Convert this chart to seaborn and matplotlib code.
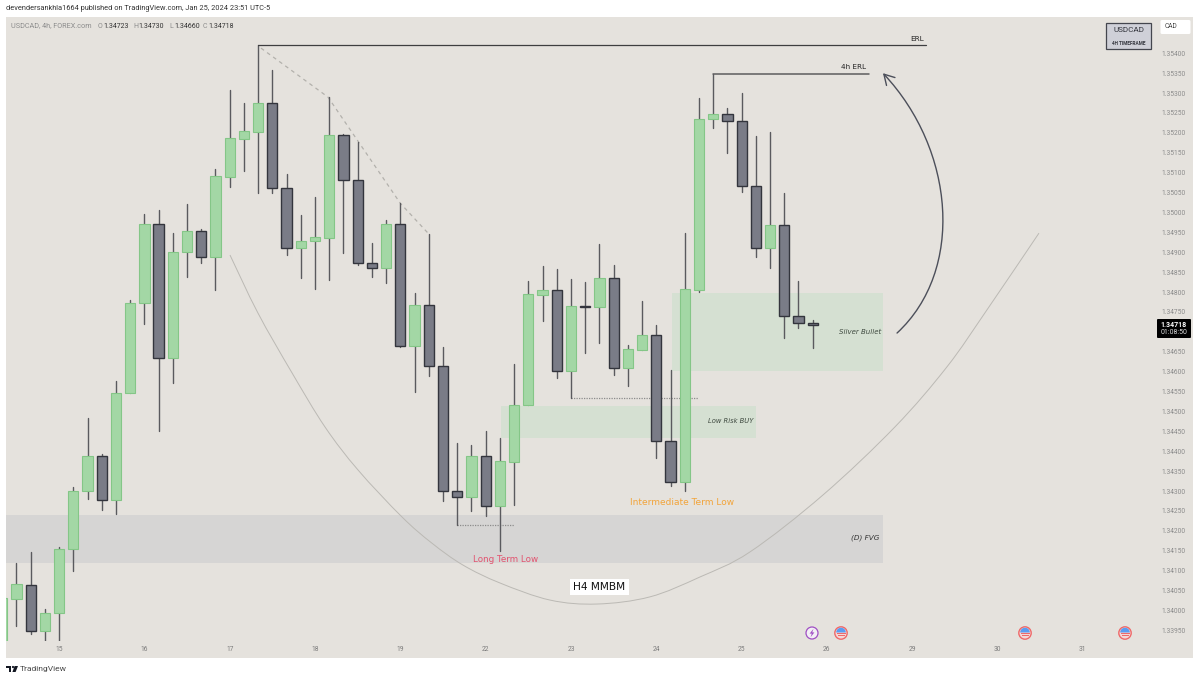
import matplotlib
matplotlib.use("Agg")
import matplotlib.pyplot as plt
from matplotlib.patches import Rectangle, Circle, Polygon, FancyArrowPatch, FancyBboxPatch, Wedge, PathPatch
from matplotlib.path import Path
from matplotlib.transforms import Affine2D
from matplotlib.ticker import FormatStrFormatter
import numpy as np
import pandas as pd
import seaborn as sns

# ---------- data ----------
opens = [1.33924,1.34028,1.34065,1.33949,1.33993,1.34154,1.34300,1.34388,1.34278,1.34546,
         1.34772,1.34971,1.34635,1.34900,1.34953,1.34889,1.35090,1.35185,1.35203,1.35274,
         1.35062,1.34911,1.34928,1.34937,1.35194,1.35081,1.34873,1.34861,1.34971,1.34664,
         1.34767,1.34614,1.34300,1.34286,1.34388,1.34262,1.34373,1.34516,1.34793,1.34805,
         1.34602,1.34765,1.34762,1.34835,1.34610,1.34655,1.34691,1.34426,1.34323,1.34805,
         1.35234,1.35247,1.35231,1.35067,1.34911,1.34968,1.34741,1.34723]
closes = [1.34030,1.34066,1.33949,1.33993,1.34154,1.34301,1.34388,1.34278,1.34546,1.34772,
          1.34971,1.34635,1.34900,1.34953,1.34889,1.35092,1.35186,1.35205,1.35274,1.35062,
          1.34911,1.34929,1.34938,1.35194,1.35081,1.34872,1.34861,1.34971,1.34664,1.34767,
          1.34613,1.34300,1.34286,1.34388,1.34262,1.34375,1.34517,1.34794,1.34805,1.34602,
          1.34766,1.34762,1.34835,1.34610,1.34657,1.34691,1.34426,1.34323,1.34807,1.35234,
          1.35247,1.35230,1.35067,1.34911,1.34968,1.34741,1.34723,1.34718]
highs = [1.34051,1.34120,1.34147,1.34003,1.34159,1.34310,1.34484,1.34393,1.34576,1.34780,
         1.34996,1.35005,1.34948,1.35021,1.34958,1.35109,1.35307,1.35276,1.35420,1.35358,
         1.35097,1.34994,1.35040,1.35289,1.35197,1.35178,1.34923,1.34981,1.35023,1.34797,
         1.34945,1.34663,1.34420,1.34416,1.34451,1.34433,1.34619,1.34828,1.34865,1.34857,
         1.34832,1.34825,1.34922,1.34867,1.34666,1.34778,1.34718,1.34604,1.34948,1.35288,
         1.35348,1.35263,1.35301,1.35192,1.35201,1.35048,1.34829,1.34730]
lows = [1.33913,1.33961,1.33941,1.33924,1.33924,1.34100,1.34281,1.34252,1.34242,1.34546,
        1.34720,1.34451,1.34571,1.34839,1.34872,1.34805,1.35063,1.35105,1.35048,1.35050,
        1.34894,1.34836,1.34808,1.34830,1.34897,1.34868,1.34839,1.34822,1.34663,1.34550,
        1.34590,1.34276,1.34215,1.34251,1.34238,1.34150,1.34264,1.34516,1.34727,1.34585,
        1.34533,1.34648,1.34671,1.34592,1.34564,1.34655,1.34382,1.34313,1.34301,1.34801,
        1.35212,1.35150,1.35051,1.34887,1.34860,1.34685,1.34710,1.34660]

day_ticks = [4, 10, 16, 22, 28, 34, 40, 46, 52, 58, 64, 70, 76]
day_labels = ["15", "16", "17", "18", "19", "22", "23", "24", "25", "26", "29", "30", "31"]
price_ticks = [1.33950,1.34000,1.34050,1.34100,1.34150,1.34200,1.34250,1.34300,1.34350,1.34400,
               1.34450,1.34500,1.34550,1.34600,1.34650,1.34750,1.34800,1.34850,1.34900,1.34950,
               1.35000,1.35050,1.35100,1.35150,1.35200,1.35250,1.35300,1.35350,1.35400]

curve_x = [16.02,17.99,20.38,22.7,25.02,28.11,30.22,32.4,35.0,38.52,41.83,45.55,49.07,52.59,
           57.72,62.78,66.44,69.25,72.91]
curve_y = [1.34893,1.34747,1.34597,1.34461,1.34353,1.34235,1.34169,1.34114,1.34069,1.34026,1.34016,1.34034,
           1.34084,1.34147,1.34290,1.34461,1.34612,1.34755,1.34948]
trend_x = [18.2, 22.91, 28.0, 30.0]
trend_y = [1.35413, 1.35290, 1.35023, 1.34946]

BG = "#e5e2dd"
UP_FACE, UP_EDGE = "#a3d7a5", "#84c687"
DN_FACE, DN_EDGE = "#7a7c87", "#33353d"
WICK = "#5a5a5e"
GREEN_ZONE = "#d5e0d2"
GREY_ZONE = "#d6d5d4"

# ---------- figure ----------
sns.set_theme(style="white")
plt.rcParams["font.family"] = ["Roboto", "DejaVu Sans"]
fig = plt.figure(figsize=(12, 6.8), dpi=100, facecolor="white")
px = Affine2D().scale(1, -1).translate(0, 680)   # chrome is placed in image pixels

fig.add_artist(Rectangle((6, 17), 1187, 641, transform=px, fc=BG, ec="none", zorder=-5))

ax = fig.add_axes([6 / 1200, 1 - 641 / 680, 1145 / 1200, 624 / 680])
ax.set_facecolor("none")
ax.set_xlim(0.267, 80.79)
ax.set_ylim(1.339231, 1.354912)
sns.despine(ax=ax, left=True, right=True, top=True, bottom=True)

# zones
for x0, x1, y0, y1, col in [(47.08, 61.96, 1.34602, 1.34798, GREEN_ZONE),
                            (35.07, 53.0, 1.34434, 1.34514, GREEN_ZONE),
                            (0.0, 61.96, 1.34118, 1.34240, GREY_ZONE)]:
    ax.add_patch(Rectangle((x0, y0), x1 - x0, y1 - y0, fc=col, ec="none", zorder=1))

# hand-drawn arc: a smooth path through the points
P = np.column_stack([curve_x, curve_y])
Q = np.vstack([P[0], P, P[-1]])
verts, codes = [tuple(P[0])], [Path.MOVETO]
for k in range(1, len(Q) - 2):
    verts += [tuple(Q[k] + (Q[k + 1] - Q[k - 1]) / 6), tuple(Q[k + 1] - (Q[k + 2] - Q[k]) / 6), tuple(Q[k + 1])]
    codes += [Path.CURVE4] * 3
ax.add_patch(PathPatch(Path(verts, codes), fc="none", ec="#bbb9b4", lw=0.7, zorder=2))

sns.lineplot(x=trend_x, y=trend_y, sort=False, estimator=None, color="#b3b1ac", lw=0.9, ax=ax, zorder=2,
             linestyle=(0, (3, 3)))

# wicks
idx = np.arange(len(opens))
wicks = pd.DataFrame({"i": np.r_[idx, idx], "price": highs + lows})
sns.lineplot(data=wicks, x="i", y="price", units="i", estimator=None, color=WICK, lw=1.0, ax=ax, zorder=3)

# bodies
o, c = np.array(opens), np.array(closes)
up = c >= o
ax.bar(idx[up], (c - o)[up], bottom=o[up], width=0.72, color=UP_FACE, edgecolor=UP_EDGE, linewidth=0.8, zorder=4)
ax.bar(idx[~up], (c - o)[~up], bottom=o[~up], width=0.72, color=DN_FACE, edgecolor=DN_EDGE, linewidth=1.0, zorder=4)

# level lines
ax.plot([18, 65.0], [1.35420, 1.35420], color="#3e3e40", lw=0.9, zorder=5)
ax.plot([50, 60.95], [1.35348, 1.35348], color="#5c5c5e", lw=1.1, zorder=5)
ax.plot([32, 36], [1.34215, 1.34215], color="#8c8c8c", lw=0.9, ls=(0, (1, 1)), zorder=2)
ax.plot([40, 48.9], [1.34533, 1.34533], color="#8c8c8c", lw=0.9, ls=(0, (1, 1)), zorder=2)

# curved arrow
arrow_path = Path([(62.93, 1.34697), (67.7, 1.34855), (67.0, 1.35157), (61.94, 1.35350)],
                  [Path.MOVETO, Path.CURVE4, Path.CURVE4, Path.CURVE4])
ax.add_patch(FancyArrowPatch(path=arrow_path, transform=ax.transData, arrowstyle="->,head_length=4.5,head_width=2.6",
                             color="#4c4f5a", lw=1.0, zorder=5, mutation_scale=1.6))

# annotations
ann = dict(family=["DejaVu Sans"], zorder=6, va="center")
ax.text(64.8, 1.35436, "ERL", ha="right", fontsize=5.2, color="#222222", **ann)
ax.text(60.75, 1.35366, "4h ERL", ha="right", fontsize=5.2, color="#222222", **ann)
ax.text(61.8, 1.34700, "Silver Bullet", ha="right", fontsize=5.0, style="italic", color="#3f4a40", **ann)
ax.text(52.8, 1.34476, "Low Risk BUY", ha="right", fontsize=4.9, style="italic", color="#3f4a40", **ann)
ax.text(61.7, 1.34182, "(D) FVG", ha="right", fontsize=5.2, style="italic", color="#333333", **ann)
ax.text(47.8, 1.34270, "Intermediate Term Low", ha="center", fontsize=6.5, color="#f2a43a", **ann)
ax.text(35.4, 1.34129, "Long Term Low", ha="center", fontsize=6.3, color="#e2526e", **ann)
ax.text(42.0, 1.34058, "H4 MMBM", ha="center", fontsize=7.6, color="#111111",
        bbox=dict(fc="white", ec="none", pad=2.2), **ann)

# axes ticks
ax.set_xticks(day_ticks, day_labels)
ax.set_yticks(price_ticks)
ax.yaxis.tick_right()
ax.yaxis.set_major_formatter(FormatStrFormatter("%.5f"))
ax.tick_params(axis="y", length=0, pad=7.2, labelsize=4.8, labelcolor="#8b8b8b")
ax.tick_params(axis="x", length=0, pad=3.5, labelsize=4.8, labelcolor="#7b7b7b")
ax.set_xlabel("")
ax.set_ylabel("")


def T(x, y, s, **kw):
    kw.setdefault("va", "center")
    fig.text(x, y, s, transform=px, **kw)


# header
T(6, 9, "devendersankhla1664 published on TradingView.com, Jan 25, 2024 23:51 UTC-5", fontsize=5.3, color="#333333")
T(11, 26, "USDCAD, 4h, FOREX.com", fontsize=5.25, color="#8c8c8c")
for xl, lab, xv, val in [(98, "O", 103, "1.34723"), (133, "H", 138, "1.34730"),
                         (169, "L", 174, "1.34660"), (203, "C", 208, "1.34718")]:
    T(xl, 26, lab, fontsize=5.0, color="#8c8c8c")
    T(xv, 26, val, fontsize=5.0, color="#333333")

# symbol badge and currency box
fig.add_artist(Rectangle((1106, 22.5), 45, 26, transform=px, fc="#cfd0d8", ec="#44464e", lw=0.9))
T(1128.5, 30, "USDCAD", fontsize=5.9, color="#33353d", ha="center")
T(1128.5, 43.5, "4H TIMEFRAME", fontsize=3.4, color="#33353d", ha="center", fontweight="bold")
fig.add_artist(FancyBboxPatch((1160.5, 20), 30, 14, boxstyle="round,pad=0,rounding_size=1.5", transform=px, fc="white", ec="none"))
T(1165, 27, "CAD", fontsize=4.8, color="#444444")

# last price tag
fig.add_artist(FancyBboxPatch((1157, 319), 34, 19, boxstyle="round,pad=0,rounding_size=1", transform=px, fc="black", ec="none"))
T(1174, 325, "1.34718", fontsize=5.0, color="white", ha="center", fontweight="bold")
T(1174, 333, "01:08:50", fontsize=5.0, color="#dddddd", ha="center")

# footer logo and name
for verts_ in [[(6, 666), (11.3, 666), (11.3, 668), (6, 668)],
               [(8.6, 666), (11.3, 666), (11.3, 672), (8.6, 672)],
               [(14.6, 666), (18, 666), (15.6, 672), (12.4, 672)]]:
    fig.add_artist(Polygon(verts_, transform=px, fc="#131722", ec="none"))
fig.add_artist(Circle((13, 667), 1.1, transform=px, fc="#131722", ec="none"))
T(20, 669, "TradingView", fontsize=6.1, color="#4a4a4a")

# event icons
fig.add_artist(Circle((812, 633), 6.0, transform=px, fc="#f3eff5", ec="#a04fc4", lw=0.9))
fig.add_artist(Polygon([(813.5, 628.8), (809.6, 633.6), (811.8, 633.6), (810.6, 637.2), (814.4, 632.4), (812.2, 632.4)],
                       transform=px, fc="#a04fc4", ec="none"))
for xc in [841, 1025, 1125]:
    fig.add_artist(Circle((xc, 633), 6.2, transform=px, fc="#f4d8d8", ec="#ef6a6a", lw=1.0))
    fig.add_artist(Wedge((xc, 632.5), 4.8, 180, 360, transform=px, fc="#5b9df2", ec="none"))
    fig.add_artist(Rectangle((xc - 4.5, 632.6), 9, 1.0, transform=px, fc="#ef6a6a", ec="none"))
    fig.add_artist(Rectangle((xc - 3.5, 635.4), 7, 0.9, transform=px, fc="#ef6a6a", ec="none"))

fig.savefig("out.png", dpi=100, facecolor="white")
